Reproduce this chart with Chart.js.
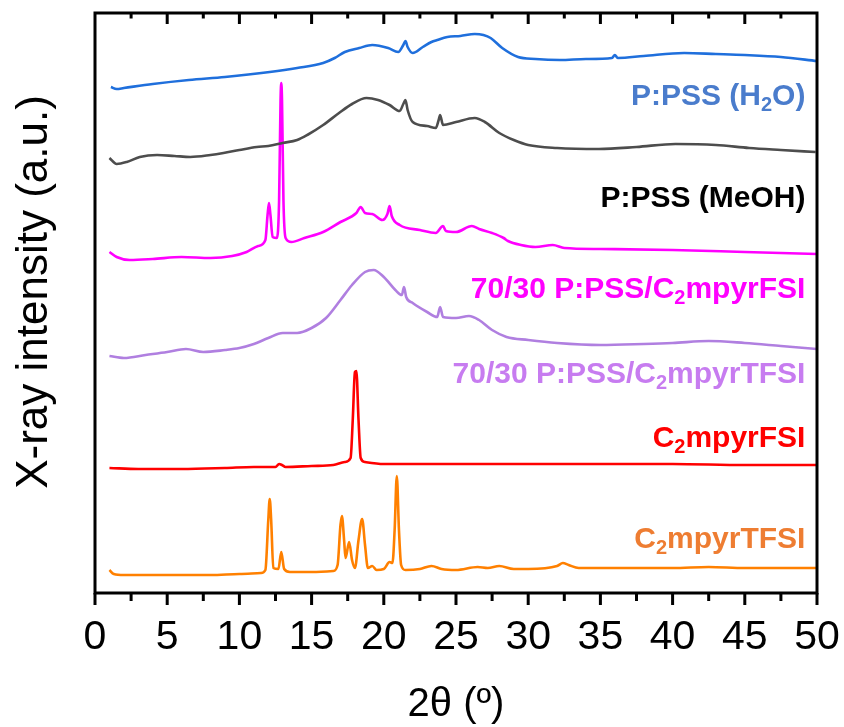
<!DOCTYPE html>
<html>
<head>
<meta charset="utf-8">
<script src="https://cdn.jsdelivr.net/npm/chart.js@4.4.0/dist/chart.umd.min.js"></script>
<style>
  html, body { margin: 0; padding: 0; background: #fff; }
  #wrap { width: 844px; height: 727px; }
</style>
</head>
<body>
<div id="wrap"><canvas id="xrd" width="844" height="727"></canvas></div>
<script>
// 2θ axis ticks
const majorTicks = [0, 5, 10, 15, 20, 25, 30, 35, 40, 45, 50];
const minorTicks = [2.5, 7.5, 12.5, 17.5, 22.5, 27.5, 32.5, 37.5, 42.5, 47.5];

// Diffractograms, [2θ (°), intensity (a.u., stacked with offsets)]
const pssH2O = [
  [1.1,508],[1.5,506],[2,507],[4,511],[6.5,515],[9,518],[12.1,523],[14,527],[15.8,532],
  [16.6,537],[17.3,543],[18.3,547],[19.2,550],[20.3,547],[21,543],[21.35,550],[21.5,554],
  [21.65,548],[22,542],[22.7,548],[23.3,553],[23.7,555],[24.4,558],[25.3,559],[26.3,561],
  [26.9,560],[27.4,557],[28.2,547],[29.3,538],[30.5,536],[32.2,535],[34,536],[35.8,537],
  [36,540],[36.2,537],[38,539],[40.8,542],[43,541],[45,540],[47.5,538],[50,534]
];
const pssMeOH = [
  [1,437],[1.5,431],[2.2,433],[3.1,438],[4.3,440],[5.5,439],[6.6,438],[8,440],[8.9,442],
  [10,445],[11.2,448],[12,449],[13,452],[14,455],[14.7,460],[15.8,470],[16.9,482],[17.8,491],
  [18.8,497],[19.6,495],[20.4,490],[21.1,484],[21.35,491],[21.5,495],[21.65,485],[22,473],
  [23,469],[23.6,467],[23.8,475],[23.9,480],[24.1,470],[25,473],[26.3,477],[27,473],[28,462],
  [29,455],[30,450],[32,447],[34.9,446],[37.5,448],[40.2,451],[43,450],[45.3,447],[47.5,445],[49.9,443]
];
const blendFSI = [
  [1,343],[1.5,338],[2.4,335],[4,336],[6,338],[8,337],[9.5,339],[10.5,343],[11.3,349],[11.8,355],
  [11.95,380],[12.05,392],[12.15,380],[12.3,358],[12.6,357],[12.75,395],[12.85,495],[12.9,512],
  [12.95,495],[13.05,395],[13.2,357],[13.6,353],[14.5,357],[15.8,363],[17,373],[18.1,382],
  [18.4,388],[18.7,382],[19.2,381],[19.9,375],[20.25,381],[20.4,389],[20.55,379],[21.1,370],
  [22.5,365],[23.6,362],[24.1,369],[24.3,364],[25,363],[26.1,369],[26.6,366],[27.5,362],
  [28.3,357],[28.6,354],[29.5,350],[30.5,348],[31.7,350],[32.5,347],[35,346],[40,345],[45,343],[50,341]
];
const blendTFSI = [
  [1,239],[2,237],[3.5,240],[5,243],[6.3,246],[7.5,243],[9,245],[10,247],[11,251],[12,257],
  [13,262],[14,262],[15,267],[16,277],[17,295],[17.8,310],[18.7,323],[19.3,325],[20,318],
  [20.8,305],[21.25,300],[21.4,308],[21.55,298],[22,292],[23,283],[23.7,278],[23.9,288],
  [24.1,278],[25,277],[25.9,279],[26.6,275],[27.5,265],[28.5,258],[30,255],[32,252],[35,250],
  [38,251],[40,252],[42.5,254],[45,252],[47.5,249],[50,246]
];
const ilFSI = [
  [1,127],[3,126],[6,126],[9,127],[11,128],[12.5,128],[12.75,131],[12.95,130],[13.2,128],
  [15,129],[16.5,130],[17.3,133],[17.7,137],[17.85,175],[18,223],[18.1,224],[18.25,175],
  [18.4,137],[18.7,133],[20,131],[25,131],[30,131],[35,131],[40,131],[45,130],[50,130]
];
const ilTFSI = [
  [1,25],[1.3,21],[2,20],[5,20],[8,20],[10,21],[11.5,22],[11.8,25],[12,75],[12.1,96],[12.2,75],
  [12.35,27],[12.7,26],[12.9,43],[13.1,26],[13.5,23],[15,23],[16.5,24],[16.8,30],[17,70],
  [17.1,79],[17.25,55],[17.35,37],[17.6,53],[17.8,35],[18,27],[18.25,55],[18.5,76],[18.7,50],
  [18.9,27],[19.2,29],[19.5,25],[20,26],[20.4,33],[20.6,32],[20.75,65],[20.9,119],[21.05,65],
  [21.2,30],[21.5,25],[22.5,26],[23.3,29],[24,26],[25,25],[26.5,28],[27.2,27],[28,29],[29,26],
  [30,26],[32,29],[32.4,32],[32.8,30],[33.5,27],[36,27],[40,27],[42.5,28],[45,27],[48,27],[50,27]
];

// Curve labels: text runs (second item flags a subscript), anchored at their right end
const curveLabels = [
  { runs: [['P:PSS (H'], ['2', 1], ['O)']], color: '#4a7ccc', x: 49.2, y: 490 },
  { runs: [['P:PSS (MeOH)']], color: '#000000', x: 49.2, y: 388 },
  { runs: [['70/30 P:PSS/C'], ['2', 1], ['mpyrFSI']], color: '#ff00ff', x: 49.2, y: 297 },
  { runs: [['70/30 P:PSS/C'], ['2', 1], ['mpyrTFSI']], color: '#c77cf0', x: 49.2, y: 212 },
  { runs: [['C'], ['2', 1], ['mpyrFSI']], color: '#ff0000', x: 49.2, y: 148 },
  { runs: [['C'], ['2', 1], ['mpyrTFSI']], color: '#ee7d32', x: 49.2, y: 47 }
];

const FONT = '"Liberation Sans", Arial, sans-serif';

function series(pairs, color) {
  return {
    data: pairs.map(([x, y]) => ({ x, y })),
    borderColor: color,
    borderWidth: 2.6,
    pointRadius: 0,
    fill: false,
    cubicInterpolationMode: 'monotone'
  };
}

const framePlugin = {
  id: 'framePlugin',
  afterDraw(chart) {
    const { ctx, chartArea: a, scales: { x, y } } = chart;
    ctx.save();
    ctx.strokeStyle = '#000';
    ctx.lineWidth = 3;
    ctx.lineCap = 'butt';
    ctx.strokeRect(a.left, a.top, a.right - a.left, a.bottom - a.top);

    ctx.beginPath();
    majorTicks.forEach(v => {
      const px = x.getPixelForValue(v);
      ctx.moveTo(px, a.bottom);
      ctx.lineTo(px, a.bottom + 12);
      if (v > 0 && v < 50) {
        ctx.moveTo(px, a.top);
        ctx.lineTo(px, a.top + 11);
      }
    });
    minorTicks.forEach(v => {
      const px = x.getPixelForValue(v);
      ctx.moveTo(px, a.bottom);
      ctx.lineTo(px, a.bottom + 8);
      ctx.moveTo(px, a.top);
      ctx.lineTo(px, a.top + 5.5);
    });
    ctx.stroke();

    // curve labels
    ctx.textBaseline = 'alphabetic';
    ctx.textAlign = 'left';
    curveLabels.forEach(lab => {
      const mainFont = 'bold 30px ' + FONT;
      const subFont = 'bold 20px ' + FONT;
      let total = 0;
      lab.runs.forEach(([t, sub]) => {
        ctx.font = sub ? subFont : mainFont;
        total += ctx.measureText(t).width;
      });
      let cx = x.getPixelForValue(lab.x) - total;
      const by = y.getPixelForValue(lab.y);
      ctx.fillStyle = lab.color;
      lab.runs.forEach(([t, sub]) => {
        ctx.font = sub ? subFont : mainFont;
        ctx.fillText(t, cx, sub ? by + 6 : by);
        cx += ctx.measureText(t).width;
      });
    });

    // axis titles
    ctx.fillStyle = '#000';
    ctx.font = '40px ' + FONT;
    ctx.textAlign = 'center';
    ctx.fillText('2\u03B8 (\u00BA)', (a.left + a.right) / 2, 716);

    ctx.save();
    ctx.translate(47, 292);
    ctx.rotate(-Math.PI / 2);
    ctx.font = '44px ' + FONT;
    ctx.textAlign = 'center';
    ctx.fillText('X-ray intensity (a.u.)', 0, 0);
    ctx.restore();

    ctx.restore();
  }
};

new Chart(document.getElementById('xrd'), {
  type: 'line',
  data: {
    datasets: [
      series(pssH2O, '#1f6fdc'),
      series(pssMeOH, '#4d4d4d'),
      series(blendFSI, '#ff00ff'),
      series(blendTFSI, '#b07fe0'),
      series(ilFSI, '#ff0000'),
      series(ilTFSI, '#ff8000')
    ]
  },
  options: {
    responsive: false,
    animation: false,
    devicePixelRatio: 1,
    layout: { padding: { top: 13, right: 27, left: 0, bottom: 0 } },
    plugins: { legend: { display: false }, tooltip: { enabled: false } },
    scales: {
      x: {
        type: 'linear',
        min: 0,
        max: 50,
        afterBuildTicks: s => { s.ticks = majorTicks.map(v => ({ value: v })); },
        afterFit: s => { s.height = 134; s.paddingLeft = 0; s.paddingRight = 0; },
        grid: { display: false, drawTicks: false },
        border: { display: false },
        ticks: {
          color: '#000',
          font: { family: FONT, size: 41 },
          padding: 20,
          maxRotation: 0,
          autoSkip: false
        }
      },
      y: {
        type: 'linear',
        min: 2,
        max: 582,
        afterFit: s => { s.width = 95; },
        grid: { display: false, drawTicks: false },
        border: { display: false },
        ticks: { display: false }
      }
    }
  },
  plugins: [framePlugin]
});
</script>
</body>
</html>
